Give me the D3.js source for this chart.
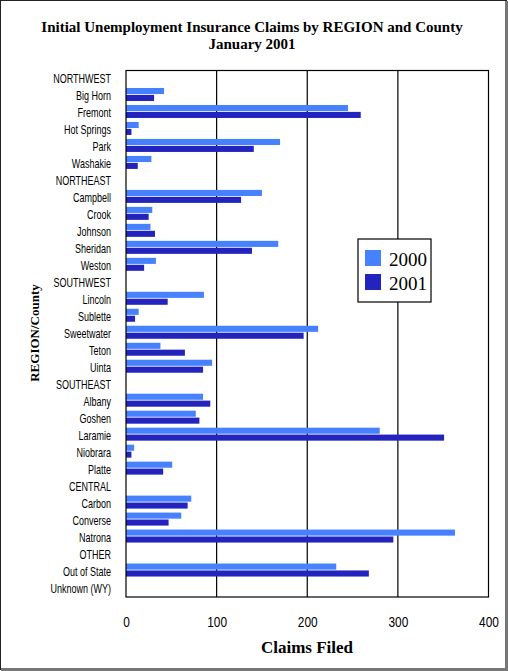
<!DOCTYPE html>
<html>
<head>
<meta charset="utf-8">
<script src="https://cdn.jsdelivr.net/npm/d3@7"></script>
<style>
  body { margin: 0; background: #fff; }
  svg { display: block; }
</style>
</head>
<body>
<div id="chart"></div>
<script>
// rows top to bottom; region headers have no bars
const categories = ["NORTHWEST", "Big Horn", "Fremont", "Hot Springs", "Park", "Washakie",
  "NORTHEAST", "Campbell", "Crook", "Johnson", "Sheridan", "Weston",
  "SOUTHWEST", "Lincoln", "Sublette", "Sweetwater", "Teton", "Uinta",
  "SOUTHEAST", "Albany", "Goshen", "Laramie", "Niobrara", "Platte",
  "CENTRAL", "Carbon", "Converse", "Natrona",
  "OTHER", "Out of State", "Unknown (WY)"];

const claims2000 = [0, 42, 245, 14, 170, 28,
  0, 150, 29, 27, 168, 33,
  0, 86, 14, 212, 38, 95,
  0, 85, 77, 280, 9, 51,
  0, 72, 61, 363,
  0, 232, 0];

const claims2001 = [0, 31, 259, 6, 141, 13,
  0, 127, 25, 32, 139, 20,
  0, 46, 10, 196, 65, 85,
  0, 93, 81, 351, 6, 41,
  0, 68, 47, 295,
  0, 268, 0];

const seriesNames = ["2000", "2001"];
const xTicks = [0, 100, 200, 300, 400];

function makeChart() {
  let svgWidth = 508;
  let svgHeight = 671;

  let plot = { left: 126, right: 488.5, top: 70.5, bottom: 597 };
  let colors = { "2000": "#4682FF", "2001": "#2323BE" };
  let narrow = "'Liberation Sans', Arial, sans-serif";
  let serif = "'Liberation Serif', 'DejaVu Serif', serif";

  let svg = d3.select("#chart")
    .append("svg")
    .attr("width", svgWidth)
    .attr("height", svgHeight);

  // outer frame
  svg.append("rect")
    .attr("x", 0.5).attr("y", 0.5)
    .attr("width", svgWidth - 2).attr("height", svgHeight - 2)
    .attr("fill", "none").attr("stroke", "#222").attr("stroke-width", 1);
  svg.append("path")
    .attr("d", `M${svgWidth - 1.5},1 V${svgHeight - 1.5} H1`)
    .attr("fill", "none").attr("stroke", "#777").attr("stroke-width", 3);

  let data = categories.map((c, i) => ({ name: c, "2000": claims2000[i], "2001": claims2001[i] }));

  let x = d3.scaleLinear()
    .domain([0, 400])
    .range([plot.left, plot.right]);

  let y = d3.scaleBand()
    .domain(categories)
    .range([plot.top, plot.bottom])
    .padding(0);

  let ySub = d3.scaleBand()
    .domain(seriesNames)
    .range([0.5, 13.5])
    .paddingInner(0.12);

  // grid lines
  svg.append("g")
    .selectAll("line")
    .data(xTicks.slice(1, -1))
    .enter()
    .append("line")
    .attr("x1", d => x(d)).attr("x2", d => x(d))
    .attr("y1", plot.top).attr("y2", plot.bottom)
    .attr("stroke", "#000").attr("stroke-width", 1.2);

  // bars
  let rows = svg.append("g")
    .selectAll("g")
    .data(data)
    .enter()
    .append("g")
    .attr("transform", d => `translate(0, ${y(d.name)})`);

  rows.selectAll("rect")
    .data(d => seriesNames.map(s => ({ key: s, value: d[s] })).filter(v => v.value > 0))
    .enter()
    .append("rect")
    .attr("x", x(0))
    .attr("y", d => ySub(d.key))
    .attr("width", d => x(d.value) - x(0))
    .attr("height", ySub.bandwidth())
    .attr("fill", d => colors[d.key]);

  // plot border
  svg.append("rect")
    .attr("x", plot.left).attr("y", plot.top)
    .attr("width", plot.right - plot.left).attr("height", plot.bottom - plot.top)
    .attr("fill", "none").attr("stroke", "#000").attr("stroke-width", 1.2);

  // axes (labels squeezed horizontally to mimic the narrow font)
  let yAxis = d3.axisLeft(y).tickSize(0).tickPadding(15);
  let yG = svg.append("g")
    .attr("transform", `translate(${plot.left}, 0)`)
    .call(yAxis);
  yG.select(".domain").remove();
  yG.selectAll(".tick text")
    .attr("x", 0)
    .attr("transform", "translate(-15, 0) scale(0.72, 1)")
    .attr("font-family", narrow)
    .attr("font-size", "12.5px")
    .attr("fill", "#000");

  let xAxis = d3.axisBottom(x).tickValues(xTicks).tickSize(0).tickPadding(20);
  let xG = svg.append("g")
    .attr("transform", `translate(0, ${plot.bottom})`)
    .call(xAxis);
  xG.select(".domain").remove();
  xG.selectAll(".tick text")
    .attr("transform", "scale(0.85, 1)")
    .attr("font-family", narrow)
    .attr("font-size", "14px")
    .attr("fill", "#000");

  // titles
  svg.append("text")
    .attr("x", 252).attr("y", 32)
    .attr("text-anchor", "middle")
    .attr("font-family", serif).attr("font-weight", "bold").attr("font-size", "15px")
    .text("Initial Unemployment Insurance Claims by REGION and County");
  svg.append("text")
    .attr("x", 252).attr("y", 49)
    .attr("text-anchor", "middle")
    .attr("font-family", serif).attr("font-weight", "bold").attr("font-size", "15px")
    .text("January 2001");

  svg.append("text")
    .attr("x", 307).attr("y", 653)
    .attr("text-anchor", "middle")
    .attr("font-family", serif).attr("font-weight", "bold").attr("font-size", "17px")
    .text("Claims Filed");

  svg.append("text")
    .attr("transform", "translate(39, 333) rotate(-90)")
    .attr("text-anchor", "middle")
    .attr("font-family", serif).attr("font-weight", "bold").attr("font-size", "13px")
    .text("REGION/County");

  // legend
  let legend = svg.append("g").attr("transform", "translate(358, 239)");
  legend.append("rect")
    .attr("width", 73).attr("height", 63)
    .attr("fill", "#fff").attr("stroke", "#000").attr("stroke-width", 1.2);
  seriesNames.forEach((s, i) => {
    legend.append("rect")
      .attr("x", 7).attr("y", 11 + i * 24)
      .attr("width", 16).attr("height", 16)
      .attr("fill", colors[s]);
    legend.append("text")
      .attr("x", 31).attr("y", 27 + i * 24)
      .attr("font-family", serif).attr("font-size", "19px")
      .text(s);
  });
}

makeChart();
</script>
</body>
</html>
